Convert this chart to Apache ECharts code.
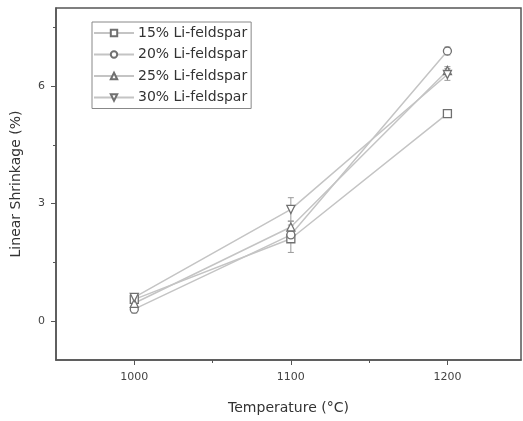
<!DOCTYPE html>
<html>
<head>
<meta charset="utf-8">
<script src="https://cdn.jsdelivr.net/npm/echarts@6/dist/echarts.min.js"></script>
<style>
  html, body { margin: 0; padding: 0; background: #fff; }
  #chart { width: 523px; height: 421px; }
</style>
</head>
<body>
<div id="chart"></div>
<script>
// 温度 (°C)
const temps = [1000, 1100, 1200];
const seriesNames = ["15% Li-feldspar", "20% Li-feldspar", "25% Li-feldspar", "30% Li-feldspar"];
// 线收缩率 (%)
const s15 = [0.55, 2.1, 5.3];
const s20 = [0.3, 2.2, 6.9];
const s25 = [0.45, 2.4, 6.4];
const s30 = [0.6, 2.85, 6.3];
// 误差 (±)
const err15 = [0.1, 0.35, 0.1];
const err20 = [0.1, 0.1, 0.1];
const err25 = [0.1, 0.15, 0.1];
const err30 = [0.1, 0.3, 0.15];

const symbols = ["rect", "circle", "triangle", "path://M0,0 L10,0 L5,10 Z"];
const allValues = [s15, s20, s25, s30];
const allErrors = [err15, err20, err25, err30];

const lineColor = "#c4c4c4";
const markColor = "#707070";
const axisColor = "#555";
const font = "DejaVu Sans, Liberation Sans, sans-serif";

const series = [];
seriesNames.forEach((name, k) => {
  series.push({
    name: name,
    type: "line",
    data: temps.map((t, i) => [t, allValues[k][i]]),
    symbol: symbols[k],
    symbolSize: 8,
    showAllSymbol: true,
    lineStyle: { color: lineColor, width: 1.5 },
    itemStyle: { color: "#fff", borderColor: markColor, borderWidth: 1.3 },
    z: 3,
  });
  // 误差线
  series.push({
    type: "custom",
    data: temps.map((t, i) => [t, allValues[k][i], allErrors[k][i]]),
    renderItem: function (params, api) {
      const x = api.value(0);
      const y = api.value(1);
      const e = api.value(2);
      const top = api.coord([x, y + e]);
      const bot = api.coord([x, y - e]);
      const style = { stroke: "#999", lineWidth: 1 };
      return {
        type: "group",
        children: [
          { type: "line", shape: { x1: top[0], y1: top[1], x2: bot[0], y2: bot[1] }, style: style },
          { type: "line", shape: { x1: top[0] - 3, y1: top[1], x2: top[0] + 3, y2: top[1] }, style: style },
          { type: "line", shape: { x1: bot[0] - 3, y1: bot[1], x2: bot[0] + 3, y2: bot[1] }, style: style },
        ],
      };
    },
    z: 2,
    silent: true,
  });
});

const option = {
  animation: false,
  backgroundColor: "#fff",
  grid: {
    left: 56,
    right: 2,
    top: 8,
    bottom: 61,
    show: true,
    borderColor: axisColor,
    borderWidth: 1.5,
  },
  legend: {
    data: seriesNames,
    orient: "vertical",
    left: 92,
    top: 22,
    itemGap: 7.5,
    itemWidth: 40,
    itemHeight: 8,
    padding: [4, 4, 4, 1],
    borderColor: "#888",
    borderWidth: 1,
    textStyle: { fontFamily: font, fontSize: 14, color: "#333", padding: [0, 0, 0, -1] },
  },
  xAxis: [
    {
      type: "value",
      min: 950,
      max: 1247,
      name: "Temperature (°C)",
      nameLocation: "middle",
      nameGap: 41,
      nameTextStyle: { fontFamily: font, fontSize: 14, color: "#333" },
      axisLine: { show: true, onZero: false, lineStyle: { color: axisColor, width: 1.5 } },
      axisTick: { show: true, customValues: temps, length: 5, lineStyle: { color: axisColor } },
      axisLabel: {
        customValues: temps,
        formatter: (v) => String(v),
        fontFamily: font,
        fontSize: 11,
        color: "#444",
        margin: 12,
      },
      splitLine: { show: false },
    },
    {
      // 次刻度
      type: "value",
      position: "bottom",
      min: 950,
      max: 1247,
      axisLine: { show: false, onZero: false },
      axisTick: { show: true, customValues: [1050, 1150], length: 3, lineStyle: { color: axisColor } },
      axisLabel: { show: false },
      splitLine: { show: false },
    },
  ],
  yAxis: [
    {
      type: "value",
      min: -1,
      max: 8,
      name: "Linear Shrinkage (%)",
      nameLocation: "middle",
      nameGap: 33,
      nameTextStyle: { fontFamily: font, fontSize: 14, color: "#333" },
      axisLine: { show: true, onZero: false, lineStyle: { color: axisColor, width: 1.5 } },
      axisTick: { show: true, customValues: [0, 3, 6], length: 5, lineStyle: { color: axisColor } },
      axisLabel: { customValues: [0, 3, 6], fontFamily: font, fontSize: 11, color: "#444", margin: 11 },
      splitLine: { show: false },
    },
    {
      type: "value",
      position: "left",
      min: -1,
      max: 8,
      axisLine: { show: false, onZero: false },
      axisTick: { show: true, customValues: [1.5, 4.5, 7.5], length: 3, lineStyle: { color: axisColor } },
      axisLabel: { show: false },
      splitLine: { show: false },
    },
  ],
  series: series,
};

const chart = echarts.init(document.getElementById("chart"));
chart.setOption(option);
</script>
</body>
</html>
